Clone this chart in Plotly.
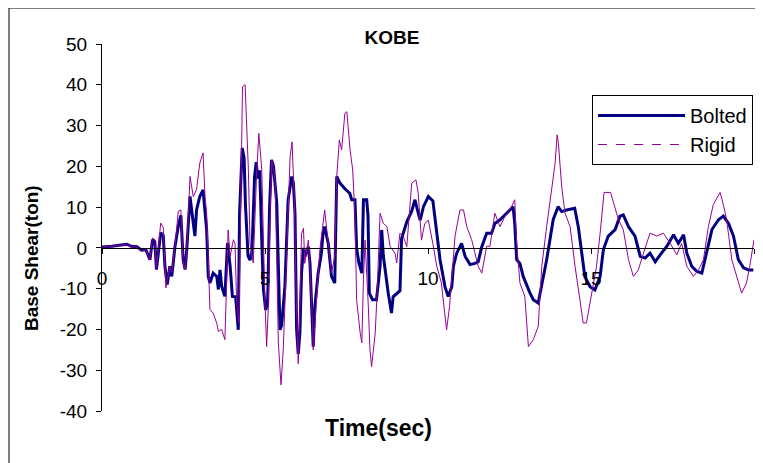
import plotly.graph_objects as go

# ---- data ----
bolted_t = [0, 0.3, 0.76, 0.9, 1.07, 1.2, 1.35, 1.47, 1.55, 1.62, 1.67, 1.80, 1.88, 1.93, 2.0, 2.08,
            2.14, 2.24, 2.34, 2.42, 2.49, 2.55, 2.60, 2.65, 2.70, 2.75, 2.85, 2.90, 3.00, 3.10, 3.16,
            3.21, 3.26, 3.31, 3.41, 3.52, 3.57, 3.62, 3.67, 3.77, 3.85, 3.93, 4.00, 4.10, 4.18, 4.22,
            4.30, 4.36, 4.40, 4.48, 4.54, 4.60, 4.68, 4.73, 4.78, 4.84, 4.90, 4.95, 5.02, 5.08, 5.14,
            5.20, 5.26, 5.31, 5.36, 5.46, 5.51, 5.61, 5.71, 5.82, 5.87, 5.92, 5.97, 6.02, 6.07, 6.12,
            6.18, 6.22, 6.33, 6.38, 6.43, 6.48, 6.53, 6.63, 6.73, 6.78, 6.83, 6.94, 7.04, 7.14, 7.20,
            7.30, 7.45, 7.60, 7.66, 7.76, 7.81, 7.88, 7.97, 8.02, 8.12, 8.16, 8.20, 8.30, 8.42, 8.53,
            8.58, 8.63, 8.78, 8.88, 8.93, 9.04, 9.14, 9.19, 9.35, 9.50, 9.60, 9.70, 9.76, 9.86, 10.01,
            10.15, 10.27, 10.37, 10.52, 10.62, 10.73, 10.78, 10.88, 11.03, 11.14, 11.29, 11.44, 11.54,
            11.65, 11.80, 11.95, 12.05, 12.21, 12.41, 12.61, 12.66, 12.72, 12.82, 12.92, 13.13, 13.23,
            13.38, 13.44, 13.54, 13.64, 13.74, 13.84, 13.99, 14.10, 14.25, 14.50, 14.61, 14.71, 14.81,
            14.97, 15.12, 15.28, 15.38, 15.53, 15.74, 15.89, 15.99, 16.15, 16.35, 16.51, 16.66, 16.81,
            16.97, 17.12, 17.33, 17.53, 17.68, 17.84, 17.94, 18.09, 18.25, 18.40, 18.55, 18.71, 18.91,
            19.06, 19.22, 19.37, 19.52, 19.68, 19.83, 19.98]
bolted_v = [0.2, 0.4, 0.9, 0.4, 0.3, -0.5, -0.5, -2.9, 2.0, 1.5, -5.3, 3.7, 3.0, -4.5, -9.0, -4.5,
            -7.0, 0.4, 5.3, 8.0, -2.9, -5.3, -0.4, 6.1, 12.6, 9.3, 2.9, 9.3, 12.6, 14.2, 8.5,
            4.4, -7.0, -8.6, -6.2, -7.0, -10.2, -5.4, -9.4, -11.9, 1.2, -4.5, -11.9, -12.0, -20.1, 8.5,
            24.5, 22.0, 10.6, -2.0, -3.0, -1.0, 17.5, 21.0, 17.0, 19.0, 2.0, -10.0, -15.2, -14.0, 10.0,
            21.6, 20.0, 15.9, 11.0, -20.1, -19.0, -9.5, 11.8, 17.5, 16.0, 8.5, -20.0, -26.0, -20.9, -6.2,
            0.0, -2.2, 0.3, -3.8, -12.7, -24.2, -14.4, -6.2, -1.3, 3.6, 5.2, 1.1, -7.0, -8.6, 17.5,
            15.9, 14.5, 13.4, 11.8, 11.8, 0.0, -3.7, -6.2, 11.8, 11.8, 7.8, -11.1, -12.7, -12.7, -4.5,
            4.4, -2.0, -11.1, -16.0, -12.0, -11.1, -10.5, 2.3, 6.4, 9.0, 11.8, 8.5, 6.8, 10.1, 12.6,
            11.5, 3.6, -2.9, -9.5, -11.9, -9.5, -4.5, -1.3, 1.1, -2.1, -4.1, -3.8, -3.4,
            0.3, 3.6, 3.6, 6.0, 6.9, 8.5, 10.1, 6.0, -2.9, -3.8, -7.0, -11.1, -12.7,
            -13.5, -11.1, -7.8, -2.9, 2.0, 6.9, 10.1, 8.9, 9.3, 9.7, 5.2, -1.3, -7.0,
            -9.5, -10.3, -7.0, -0.4, 2.9, 4.5, 7.8, 8.1, 5.2, 2.9, -2.1, -2.5, -1.3,
            -3.4, -1.7, 0.4, 3.2, 1.1, 3.2, -1.3, -4.5, -5.8, -6.2, -1.3, 4.5, 6.9,
            7.8, 6.0, 2.9, -2.9, -4.9, -5.4, -5.4]

rigid_t = [0, 0.3, 0.76, 0.9, 1.07, 1.2, 1.35, 1.47, 1.55, 1.62, 1.67, 1.80, 1.88, 1.96, 2.08, 2.14,
           2.24, 2.34, 2.42, 2.49, 2.55, 2.60, 2.65, 2.70, 2.80, 2.90, 3.00, 3.10, 3.16, 3.21, 3.26,
           3.31, 3.41, 3.52, 3.57, 3.67, 3.77, 3.82, 3.87, 3.93, 4.03, 4.08, 4.13, 4.20, 4.26, 4.31,
           4.39, 4.44, 4.49, 4.54, 4.64, 4.74, 4.81, 4.90, 4.95, 5.00, 5.05, 5.10, 5.16, 5.21, 5.31,
           5.41, 5.49, 5.56, 5.66, 5.77, 5.83, 5.90, 5.96, 6.02, 6.07, 6.12, 6.18, 6.22, 6.33, 6.43,
           6.48, 6.58, 6.68, 6.83, 6.94, 7.04, 7.14, 7.20, 7.28, 7.35, 7.45, 7.51, 7.61, 7.69, 7.76,
           7.81, 7.92, 7.97, 8.02, 8.07, 8.17, 8.22, 8.27, 8.38, 8.43, 8.53, 8.63, 8.74, 8.84, 8.99,
           9.04, 9.14, 9.24, 9.35, 9.50, 9.63, 9.70, 9.80, 9.90, 10.01, 10.15, 10.27,
           10.41, 10.57, 10.66, 10.73, 10.83, 10.98, 11.09, 11.19, 11.34, 11.54, 11.65, 11.80, 11.90,
           12.05, 12.21, 12.36, 12.56, 12.66, 12.72, 12.82, 12.97, 13.08, 13.23, 13.38, 13.49, 13.64,
           13.90, 13.96, 14.00, 14.10, 14.20, 14.36, 14.51, 14.66, 14.76, 14.86, 15.02, 15.17, 15.28,
           15.40, 15.60, 15.72, 15.84, 15.99, 16.15, 16.30, 16.45, 16.61, 16.81, 17.02, 17.22, 17.43,
           17.63, 17.78, 17.94, 18.14, 18.30, 18.45, 18.60, 18.75, 18.96, 19.06, 19.16, 19.32, 19.47,
           19.62, 19.77, 19.87, 20.0]
rigid_v = [0.2, 0.4, 0.8, 0.4, 0.2, -0.8, -0.5, -2.9, 2.4, 2.0, -5.4, 6.1, 5.0, -9.8, -4.5, -6.0,
           0.4, 9.0, 9.3, -3.7, -5.4, -0.4, 6.9, 17.5, 12.6, 14.3, 20.8, 23.3, 12.6, 8.5, -2.1,
           -15.1, -16.0, -18.5, -20.5, -20.0, -22.5, -10.0, 4.4, -2.1, 2.0, 1.1, -13.5, -18.4, 8.5, 39.5,
           40.0, 29.0, 19.2, 1.1, -3.7, 17.5, 28.1, 19.2, 1.1, -13.5, -24.2, -15.0, 10.0, 21.5, 16.7,
           -23.3, -33.6, -25.0, -2.9, 22.4, 26.0, 11.8, -12.7, -28.4, -15.0, 3.4, 4.8, -3.8, 1.9, -12.7,
           -25.0, -12.7, -0.6, 9.3, 1.9, -6.2, -2.0, 17.5, 26.5, 24.0, 33.0, 33.4, 24.0, 19.1, 7.7,
           -12.7, -20.9, -23.3, -7.8, 1.9, -14.4, -25.0, -29.1, -20.9, -12.7, 8.5, 6.0, 5.2, 0.3, -1.3,
           -3.7, 3.6, 2.8, 0.3, 15.9, 16.7, 13.4, 1.9, 6.0, 6.8, 1.0, -4.5,
           -8.6, -20.1, -14.4, -7.8, 2.9, 9.3, 9.3, 5.2, 2.0, -4.5, -6.2, 0.4, 0.4,
           8.5, 5.2, 7.8, 10.1, 11.8, 1.2, -8.6, -11.9, -24.2, -22.5, -19.3, -4.5, 5.2,
           20.8, 27.7, 25.7, 15.1, 8.6, 5.2, -4.5, -12.7, -18.4, -18.4, -11.1, -4.5, 3.6,
           13.6, 13.6, 10.3, 7.0, 4.5, -2.9, -7.0, -5.4, -1.3, 3.6, 2.9, 3.6, 1.1,
           -1.7, 1.1, -4.5, -7.0, -5.4, -2.9, 5.2, 10.6, 13.6, 10.6, 6.9, -2.9, -7.0,
           -11.1, -8.6, -4.5, 2.0]

x_ticks = [0, 5, 10, 15, 20]
y_ticks = [-40, -30, -20, -10, 0, 10, 20, 30, 40, 50]

title_text = "KOBE"
x_title = "Time(sec)"
y_title = "Base Shear(ton)"

BOLT_COLOR = "#000080"
RIGID_COLOR = "#990099"
FONT = "Liberation Sans, Arial, sans-serif"

# page body has an 8px margin, so the figure is 8px smaller than the window
W, H = 755, 455
ML, MR, MT, MB = 94, 9, 36, 52
PW, PH = W - ML - MR, H - MT - MB  # 652 x 367


def px_x(page_x):
    return (page_x - 8 - ML) / PW


def px_y(page_y):
    return (H - MB - (page_y - 8)) / PH


fig = go.Figure()
fig.add_trace(go.Scatter(x=bolted_t, y=bolted_v, mode="lines", name="Bolted",
                         line=dict(color=BOLT_COLOR, width=3)))
fig.add_trace(go.Scatter(x=rigid_t, y=rigid_v, mode="lines", name="Rigid", showlegend=False,
                         legendgroup="rigid", line=dict(color=RIGID_COLOR, width=1)))
fig.add_trace(go.Scatter(x=[None], y=[None], mode="lines", name="Rigid", legendgroup="rigid",
                         line=dict(color=RIGID_COLOR, width=1, dash="dash")))

fig.update_layout(
    width=W, height=H,
    margin=dict(l=ML, r=MR, t=MT, b=MB),
    paper_bgcolor="white", plot_bgcolor="white",
    font=dict(family=FONT, size=19, color="black"),
    title=dict(text="<b>%s</b>" % title_text, x=px_x(392), xref="paper", xanchor="center",
               y=1 - (37 - 8) / H, yref="container", yanchor="middle",
               font=dict(family=FONT, size=19, color="black")),
    showlegend=True,
    legend=dict(x=px_x(592), y=px_y(95), xanchor="left", yanchor="top",
                bordercolor="black", borderwidth=1, bgcolor="white",
                font=dict(family=FONT, size=20, color="black"),
                itemwidth=87, tracegroupgap=0),
    xaxis=dict(range=[0, 20], tickvals=x_ticks, ticktext=[str(v) for v in x_ticks],
               showgrid=False, zeroline=False, showline=True, linecolor="black", linewidth=1,
               ticks="outside", ticklen=5, tickcolor="black", anchor="free",
               position=(0 - (-40)) / 90, ticklabelstandoff=8,
               tickfont=dict(family=FONT, size=19)),
    yaxis=dict(range=[-40, 50], tickvals=y_ticks, ticktext=[str(v) for v in y_ticks],
               showgrid=False, zeroline=False, showline=True, linecolor="black", linewidth=1,
               ticks="outside", ticklen=5, tickcolor="black", ticklabelstandoff=5,
               tickfont=dict(family=FONT, size=19)),
    annotations=[
        dict(text="<b>%s</b>" % x_title, xref="paper", yref="paper",
             x=px_x(378), y=px_y(428), xanchor="center", yanchor="middle", showarrow=False,
             font=dict(family=FONT, size=23, color="black")),
        dict(text="<b>%s</b>" % y_title, xref="paper", yref="paper", textangle=-90,
             x=px_x(32), y=px_y(258), xanchor="center", yanchor="middle", showarrow=False,
             font=dict(family=FONT, size=19, color="black")),
    ],
    shapes=[dict(type="rect", xref="paper", yref="paper",
                 x0=px_x(9), x1=1.05, y0=-0.3, y1=px_y(8),
                 line=dict(color="black", width=1), fillcolor="rgba(0,0,0,0)", layer="below")],
)

fig.write_html("out.html")
